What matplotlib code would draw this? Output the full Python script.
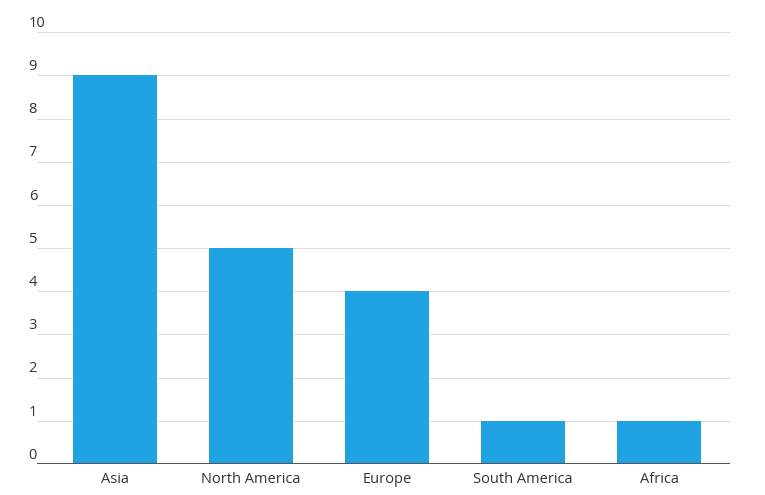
import matplotlib
matplotlib.use("Agg")
import matplotlib.pyplot as plt

categories = ["Asia", "North America", "Europe", "South America", "Africa"]
values = [9, 5, 4, 1, 1]
yticks = list(range(0, 11))

plt.rcParams['font.family'] = ['Open Sans', 'DejaVu Sans']
fig = plt.figure(figsize=(7.65, 4.95), dpi=100)
ax = fig.add_axes([0.0484, 0.0626, 0.9056, 0.8724])
x = list(range(len(categories)))
ax.bar(x, values, width=0.62, color="#1fa3e3", zorder=3)
ax.set_xlim(-0.574, 4.52)
ax.set_ylim(0, 10)
for t in yticks[1:]:
    ax.axhline(t, color="#dddddd", lw=0.8, zorder=1)
ax.axhline(0, color="#555555", lw=1.5, zorder=4)
for s in ax.spines.values():
    s.set_visible(False)
ax.set_yticks([])
ax.set_xticks(x)
ax.set_xticklabels(categories, fontsize=10.5, color="#333333")
ax.tick_params(axis="x", length=0, pad=6)
for t in yticks:
    ax.text(-0.012, t + 0.03, str(t), transform=ax.get_yaxis_transform(),
            ha="left", va="bottom", fontsize=10.5, color="#333333")
fig.savefig("out.png", dpi=100)
